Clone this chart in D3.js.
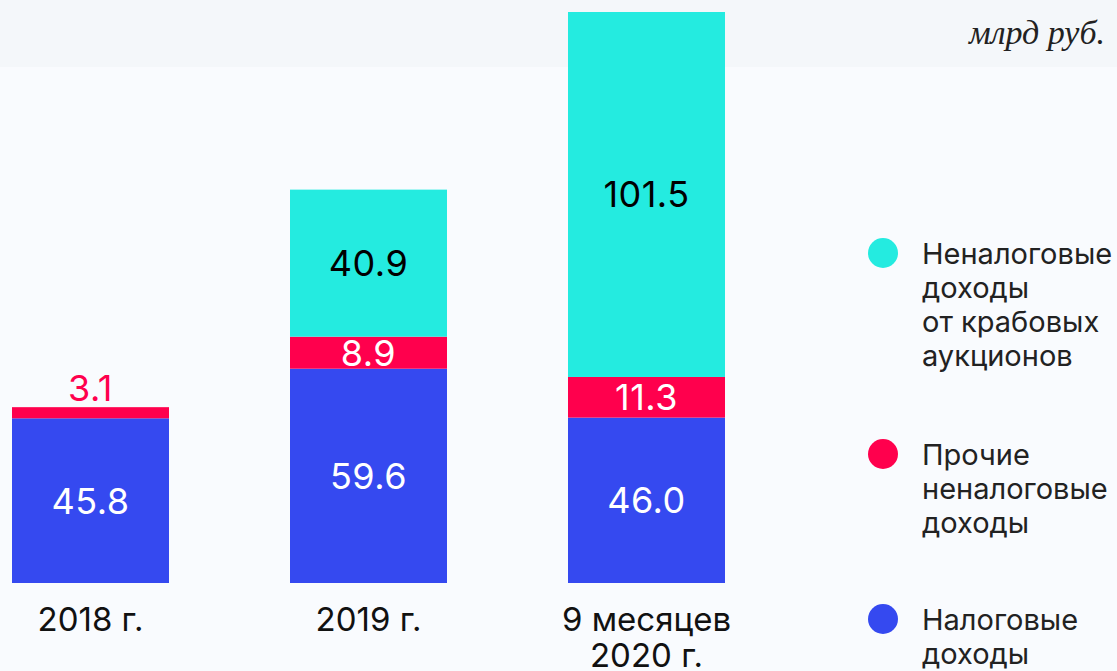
<!DOCTYPE html>
<html>
<head>
<meta charset="utf-8">
<script src="https://cdn.jsdelivr.net/npm/d3@7"></script>
<style>
  body { margin: 0; background: #f9fbfe; }
  svg { display: block; }
</style>
</head>
<body>
<div id="chart"></div>
<script>
// data, млрд руб.
var categories = [["2018 г."], ["2019 г."], ["9 месяцев", "2020 г."]];
var taxIncome = [45.8, 59.6, 46.0];
var otherNonTax = [3.1, 8.9, 11.3];
var crabAuctions = [0, 40.9, 101.5];
var seriesNames = [
  ["Неналоговые", "доходы", "от крабовых", "аукционов"],
  ["Прочие", "неналоговые", "доходы"],
  ["Налоговые", "доходы"]
];
var colors = ["#24ebe0", "#ff004d", "#3549f0"];

var width = 1117, height = 671;
var svg = d3.select("#chart").append("svg")
    .attr("width", width)
    .attr("height", height);

// light band on top
svg.append("rect")
    .attr("x", 0).attr("y", 0)
    .attr("width", width).attr("height", height)
    .style("fill", "#f9fbfe");
svg.append("rect")
    .attr("x", 0).attr("y", 0)
    .attr("width", width).attr("height", 67)
    .style("fill", "#f4f7fa");

var rows = categories.map(function(c, i) {
  return { cat: i, tax: taxIncome[i], other: otherNonTax[i], crab: crabAuctions[i] };
});
var keys = ["tax", "other", "crab"];
var stack = d3.stack().keys(keys)(rows);

var x = d3.scaleBand()
    .domain(d3.range(categories.length))
    .range([12, 12 + 278 * 2 + 157])
    .paddingInner(121 / 278)
    .paddingOuter(0);

var total = d3.max(rows, function(d) { return d.tax + d.other + d.crab; });
var y = d3.scaleLinear()
    .domain([0, total])
    .range([583, 12]);

var keyColor = { tax: colors[2], other: colors[1], crab: colors[0] };
var labelColor = { tax: "#ffffff", other: "#ffffff", crab: "#000000" };

var font = "Inter, 'Noto Sans', sans-serif";

stack.forEach(function(layer) {
  var g = svg.append("g");
  g.selectAll("rect")
    .data(layer)
    .enter().append("rect")
    .attr("x", function(d, i) { return x(i); })
    .attr("width", x.bandwidth())
    .attr("y", function(d) { return y(d[1]); })
    .attr("height", function(d) { return y(d[0]) - y(d[1]); })
    .style("fill", keyColor[layer.key]);

  g.selectAll("text")
    .data(layer.filter(function(d) { return d[1] - d[0] > 0; }))
    .enter().append("text")
    .attr("x", function(d) { return x(d.data.cat) + x.bandwidth() / 2; })
    .attr("y", function(d) {
      var h = y(d[0]) - y(d[1]);
      // small segment: label above the bar
      if (h < 20) return y(d[1]) - 6;
      return (y(d[0]) + y(d[1])) / 2 + 13;
    })
    .attr("text-anchor", "middle")
    .style("font-family", font)
    .style("font-size", "36px")
    .style("letter-spacing", "0.5px")
    .style("fill", function(d) {
      var h = y(d[0]) - y(d[1]);
      return h < 20 ? keyColor[layer.key] : labelColor[layer.key];
    })
    .text(function(d) { return (d[1] - d[0]).toFixed(1); });
});

// category labels
var cat = svg.append("g").selectAll("text")
    .data(categories)
    .enter().append("text")
    .attr("x", function(d, i) { return x(i) + x.bandwidth() / 2; })
    .attr("y", 631)
    .attr("text-anchor", "middle")
    .style("font-family", font)
    .style("font-size", "33px")
    .style("fill", "#111");
cat.selectAll("tspan")
    .data(function(d) { return d; })
    .enter().append("tspan")
    .attr("x", function() { return d3.select(this.parentNode).attr("x"); })
    .attr("dy", function(d, i) { return i === 0 ? 0 : 36; })
    .text(function(d) { return d; });

// unit
svg.append("text")
    .attr("x", 1105)
    .attr("y", 44)
    .attr("text-anchor", "end")
    .style("font-family", "'Liberation Serif', serif")
    .style("font-style", "italic")
    .style("font-size", "34px")
    .style("fill", "#222")
    .text("млрд руб.");

// legend
var legendY = [253, 454, 619];
var legend = svg.append("g").selectAll("g")
    .data(seriesNames)
    .enter().append("g")
    .attr("transform", function(d, i) { return "translate(883," + legendY[i] + ")"; });
legend.append("circle")
    .attr("r", 15)
    .style("fill", function(d, i) { return colors[i]; });
var lt = legend.append("text")
    .attr("x", 39)
    .attr("y", 11)
    .style("font-family", font)
    .style("font-size", "29px")
    .style("fill", "#222");
lt.selectAll("tspan")
    .data(function(d) { return d; })
    .enter().append("tspan")
    .attr("x", 39)
    .attr("dy", function(d, i) { return i === 0 ? 0 : 34; })
    .text(function(d) { return d; });
</script>
</body>
</html>
